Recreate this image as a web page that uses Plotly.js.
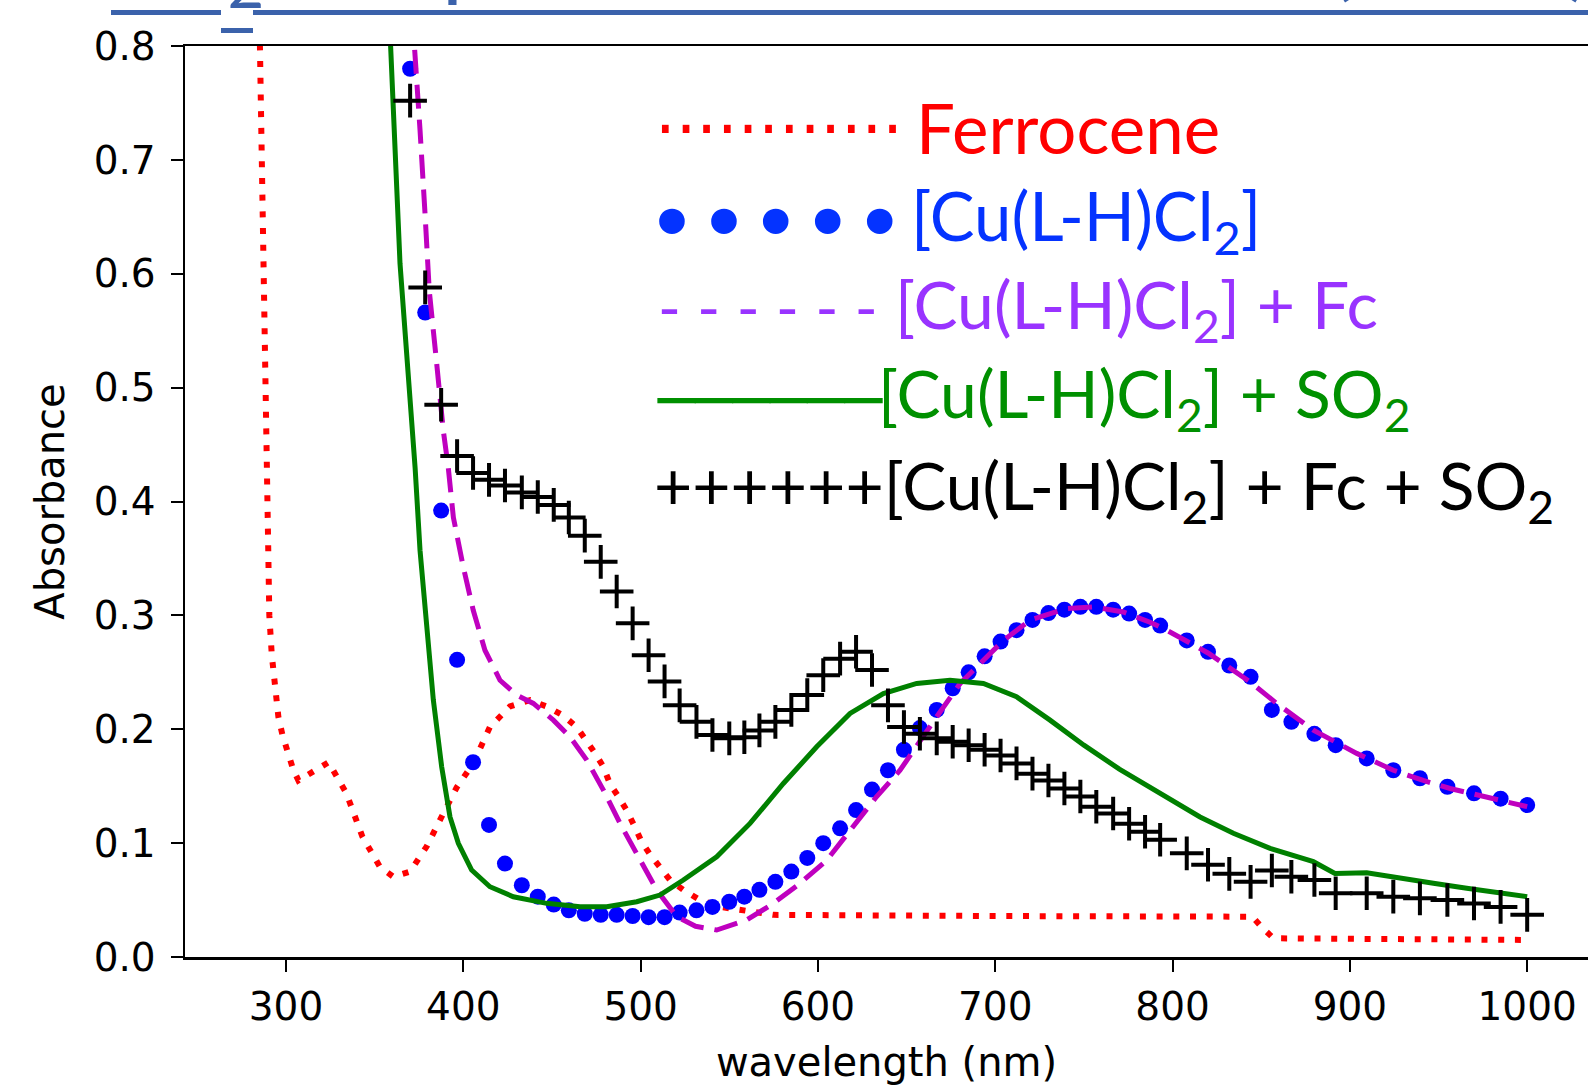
<!DOCTYPE html>
<html>
<head>
<meta charset="utf-8">
<script src="https://cdn.plot.ly/plotly-3.0.1.min.js"></script>
<style>html,body{margin:0;padding:0;background:#fff;}#chart{width:1588px;height:1085px;}</style>
</head>
<body>
<div id="chart"></div>
<script>
// ---------------- data ----------------
const seriesNames = ['Ferrocene', '[Cu(L-H)Cl2]', '[Cu(L-H)Cl2] + Fc', '[Cu(L-H)Cl2] + SO2', '[Cu(L-H)Cl2] + Fc + SO2'];

const wlFerrocene = [280, 285, 287, 289, 290.6, 292, 293.8, 295.7, 298, 300.4, 304, 307, 315, 324, 334, 343, 353, 360.5, 370, 379.3,
  388.7, 396.3, 405.6, 415, 426.3, 437.6, 447, 456.4, 463.9, 468.6, 474.3, 479, 482.7, 487.4, 492.1, 496.8, 500.6, 505.3, 510.9, 516.6,
  524, 533.5, 545, 559.8, 575, 700, 845, 851, 857, 1000];
const absFerrocene = [1.3, 0.80, 0.62, 0.445, 0.30, 0.265, 0.240, 0.211, 0.195, 0.182, 0.165, 0.155, 0.163, 0.171, 0.144, 0.106, 0.079, 0.0705, 0.075, 0.097,
  0.126, 0.149, 0.170, 0.202, 0.220, 0.2256, 0.220, 0.212, 0.202, 0.192, 0.179, 0.167, 0.152, 0.141, 0.129, 0.114, 0.101, 0.090, 0.078, 0.0676,
  0.059, 0.050, 0.044, 0.041, 0.037, 0.036, 0.0354, 0.025, 0.0164, 0.015];

const wlCuFc = [366, 372.8, 375.6, 378.4, 380.8, 385, 388.7, 391.5, 394.4, 400, 405.6, 412.2, 420.7, 430.1, 439.5, 450.8, 460.2, 469.6, 479, 488.4,
  499.7, 509.1, 520.4, 531, 542.9, 559.8, 574.8, 589.9, 605, 618, 633, 646.3, 655.7, 667, 680.1, 693.3, 704.6, 719.6, 740.3, 755.3,
  772.2, 787.3, 796.7, 820, 843.7, 858.7, 879.4, 903.9, 924.5, 941.4, 956.5, 1000];
const absCuFc = [0.95, 0.799, 0.726, 0.653, 0.585, 0.521, 0.4625, 0.43, 0.386, 0.3425, 0.3045, 0.2694, 0.243, 0.230, 0.2227, 0.208, 0.1933, 0.173, 0.1466, 0.1173,
  0.085, 0.0588, 0.0354, 0.027, 0.0237, 0.0325, 0.047, 0.0647, 0.085, 0.1115, 0.1407, 0.164, 0.1846, 0.211, 0.240, 0.2607, 0.278, 0.2958, 0.306, 0.3075,
  0.303, 0.294, 0.287, 0.267, 0.2416, 0.2227, 0.1992, 0.1788, 0.164, 0.155, 0.148, 0.132];

const wlCuSO2 = [355, 359, 364.3, 369.9, 372.8, 375.6, 379.4, 383.1, 387.8, 392.5, 397.2, 404.7, 415, 428.2, 447, 465.8, 480.9, 497.8, 510.9, 524.1,
  542.9, 561.7, 580.5, 599.3, 618.1, 636.9, 655.7, 674.5, 693.3, 712, 730.9, 750, 770, 792.9, 815.5, 834.3, 855, 879.4, 891.6, 909.5,
  928.3, 947.1, 965.9, 1000];
const absCuSO2 = [0.9, 0.80, 0.609, 0.492, 0.43, 0.357, 0.284, 0.2256, 0.167, 0.123, 0.0998, 0.0764, 0.0617, 0.0529, 0.0471, 0.0441, 0.0441, 0.0485, 0.0544, 0.0676,
  0.088, 0.1173, 0.1524, 0.1846, 0.2139, 0.2314, 0.2402, 0.2431, 0.2402, 0.2285, 0.208, 0.186, 0.165, 0.1437, 0.123, 0.1086, 0.0954, 0.0837, 0.0734, 0.074,
  0.069, 0.0647, 0.0603, 0.0529];

// sampled points shared by the two marker series
const wlPoints = [370, 378.5, 387.5, 396.5, 405.5, 414.5, 423.5, 433, 442, 451, 459.5, 468.5, 477.5, 486.5, 495.5, 504.5, 513.5, 522, 531.5, 540.5,
  550, 558.5, 567, 576, 585, 594, 603, 612.5, 621.5, 630.5, 639.5, 648.5, 657.5, 667, 676, 685, 694, 703, 712, 721,
  730, 739, 748, 757, 766.5, 775.5, 784.5, 793, 808, 820, 832, 844, 856, 867, 880, 892, 909.5, 924.5, 939.5, 955,
  970, 985, 1000];
const absCu = [0.780, 0.566, 0.392, 0.261, 0.171, 0.116, 0.082, 0.063, 0.053, 0.046, 0.041, 0.038, 0.037, 0.037, 0.036, 0.035, 0.035, 0.039, 0.041, 0.044,
  0.0485, 0.053, 0.059, 0.066, 0.075, 0.087, 0.100, 0.113, 0.129, 0.147, 0.164, 0.182, 0.201, 0.217, 0.236, 0.250, 0.264, 0.277, 0.287, 0.296,
  0.302, 0.305, 0.3075, 0.3075, 0.305, 0.3016, 0.296, 0.291, 0.278, 0.268, 0.256, 0.246, 0.217, 0.2065, 0.196, 0.186, 0.1744, 0.164, 0.157, 0.1495,
  0.1437, 0.139, 0.1334];
const absCuFcSO2 = [0.752, 0.588, 0.485, 0.440, 0.425, 0.419, 0.414, 0.408, 0.404, 0.397, 0.386, 0.370, 0.347, 0.321, 0.293, 0.265, 0.242, 0.221, 0.2065, 0.195,
  0.192, 0.193, 0.199, 0.2065, 0.217, 0.230, 0.2475, 0.262, 0.268, 0.252, 0.221, 0.202, 0.196, 0.192, 0.189, 0.186, 0.182, 0.177, 0.170, 0.161,
  0.155, 0.148, 0.141, 0.132, 0.126, 0.117, 0.110, 0.103, 0.091, 0.081, 0.073, 0.066, 0.076, 0.0705, 0.0676, 0.056, 0.056, 0.053, 0.0515, 0.050,
  0.047, 0.044, 0.037];

const xTicks = [300, 400, 500, 600, 700, 800, 900, 1000];
const yTicks = [0.0, 0.1, 0.2, 0.3, 0.4, 0.5, 0.6, 0.7, 0.8];

// ---------------- layout helpers ----------------
const W = 1588, H = 1085, ML = 185, MR = 0, MT = 46, MB = 128;
const PW = W - ML - MR, PH = H - MT - MB;
const px = X => (X - ML) / PW;
const py = Y => (H - MB - Y) / PH;

const traces = [
  {x: wlFerrocene, y: absFerrocene, name: seriesNames[0], mode: 'lines',
   line: {color: '#ff0000', width: 6, dash: '6px,10.7px'}},
  {x: wlPoints, y: absCu, name: seriesNames[1], mode: 'markers',
   marker: {color: '#0000ff', size: 16, symbol: 'circle'}},
  {x: wlCuFc, y: absCuFc, name: seriesNames[2], mode: 'lines',
   line: {color: '#bf00bf', width: 5, dash: '24px,11px'}},
  {x: wlCuSO2, y: absCuSO2, name: seriesNames[3], mode: 'lines',
   line: {color: '#008000', width: 5}},
  {x: wlPoints, y: absCuFcSO2, name: seriesNames[4], mode: 'markers',
   marker: {symbol: 'cross-thin', size: 24, color: '#000', line: {color: '#000', width: 4}}}
];

const labFont = (c, s) => ({family: 'Lato, sans-serif', size: s, color: c});
const symFont = (c, s) => ({family: 'DejaVu Sans', size: s, color: c});
const ann = (text, X, Y, font, xa, ya) => ({text, x: px(X), y: py(Y), xref: 'paper', yref: 'paper',
  xanchor: xa || 'left', yanchor: ya || 'middle', showarrow: false, font});

const annotations = [
  ann('SO<sub>2</sub>-coupled Electron Transfer (SCET)', 104, -102, {family: 'Lato, sans-serif', size: 90.5, color: '#3B62AB'}, 'left', 'top'),
  // legend rows (text in the original slide)
  ann('\u00b7\u00b7\u00b7\u00b7\u00b7\u00b7\u00b7\u00b7\u00b7\u00b7\u00b7\u00b7', 653, 129.6, symFont('#ff0000', 65)),
  ann('Ferrocene', 914, 127.5, labFont('#ff0000', 69)),
  ann('\u2022\u2022\u2022\u2022\u2022', 644, 224, symFont('#0433ff', 88)),
  ann('[Cu(L-H)Cl<sub>2</sub>]', 909, 220.3, labFont('#0433ff', 67)),
  ann('- - - - - -', 657, 307.6, symFont('#9933ff', 58)),
  ann('[Cu(L-H)Cl<sub>2</sub>] + Fc', 893, 308.7, labFont('#9933ff', 66)),
  ann('\u2500\u2500\u2500\u2500\u2500\u2500', 655, 400, symFont('#009000', 62)),
  ann('[Cu(L-H)Cl<sub>2</sub>] + SO<sub>2</sub>', 876, 397.7, labFont('#009000', 66)),
  ann('++++++[Cu(L-H)Cl<sub>2</sub>] + Fc + SO<sub>2</sub>', 652, 489.2, labFont('#000000', 66))
];

const ulColor = '#3B62AB';
const shapes = [
  {type: 'line', xref: 'paper', yref: 'paper', x0: px(111), x1: px(221), y0: py(12.5), y1: py(12.5), line: {color: ulColor, width: 5}},
  {type: 'line', xref: 'paper', yref: 'paper', x0: px(253), x1: px(1600), y0: py(12.5), y1: py(12.5), line: {color: ulColor, width: 5}},
  {type: 'line', xref: 'paper', yref: 'paper', x0: px(221), x1: px(253), y0: py(30.5), y1: py(30.5), line: {color: ulColor, width: 5}}
];

const tickFont = {family: 'DejaVu Sans', size: 39, color: '#000'};
const layout = {
  width: W, height: H,
  margin: {l: ML, r: MR, t: MT, b: MB, pad: 0},
  paper_bgcolor: '#fff', plot_bgcolor: '#fff',
  showlegend: false,
  xaxis: {
    range: [243.04, 1034.3], tickvals: xTicks, ticktext: xTicks.map(String),
    ticks: 'outside', ticklen: 12, tickwidth: 2, tickcolor: '#000',
    showline: true, linecolor: '#000', linewidth: 2.5, mirror: true,
    showgrid: false, zeroline: false, tickfont: tickFont, ticklabelstandoff: 2,
    title: {text: 'wavelength (nm)', font: {family: 'DejaVu Sans', size: 40, color: '#000'}, standoff: 28}
  },
  yaxis: {
    range: [0, 0.8], tickvals: yTicks, ticktext: yTicks.map(v => v.toFixed(1)),
    ticks: 'outside', ticklen: 12, tickwidth: 2, tickcolor: '#000',
    showline: true, linecolor: '#000', linewidth: 2.5, mirror: false,
    showgrid: false, zeroline: false, tickfont: tickFont, ticklabelstandoff: 7,
    title: {text: 'Absorbance', font: {family: 'DejaVu Sans', size: 40, color: '#000'}, standoff: 17}
  },
  annotations, shapes
};

Plotly.newPlot('chart', traces, layout, {displayModeBar: false, staticPlot: true});
</script>
</body>
</html>
